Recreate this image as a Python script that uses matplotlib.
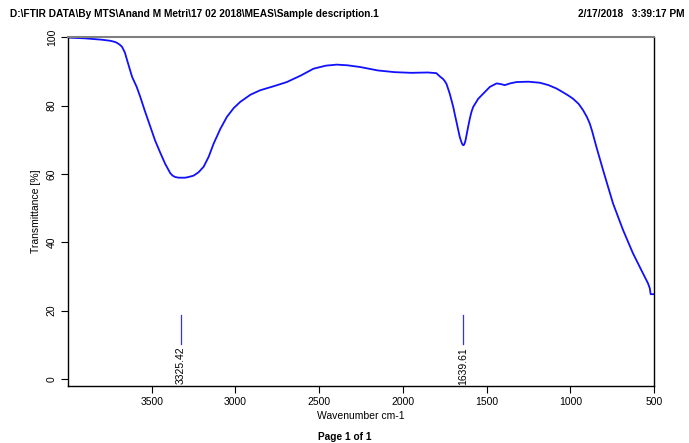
import numpy as np
import matplotlib.pyplot as plt

plt.rcParams['font.family'] = ['Liberation Sans', 'DejaVu Sans']

# spectrum
wavenumber = [4000, 3900, 3800, 3750, 3740, 3717, 3705, 3690, 3677, 3660, 3647, 3630,
              3617, 3590, 3568, 3540, 3508, 3480, 3448, 3420, 3389, 3375, 3360, 3339,
              3300, 3280, 3250, 3220, 3190, 3160, 3130, 3090, 3051, 3010, 2971, 2910,
              2852, 2770, 2693, 2610, 2534, 2460, 2394, 2330, 2255, 2150, 2050, 1950,
              1850, 1800, 1778, 1760, 1750, 1739, 1720, 1699, 1690, 1680, 1669, 1660,
              1650, 1645, 1639.6, 1635, 1630, 1625, 1618, 1610, 1600, 1590, 1580, 1550,
              1520, 1480, 1440, 1415, 1391, 1360, 1321, 1250, 1182, 1130, 1082, 1040,
              1013, 983, 950, 924, 900, 884, 870, 860, 844, 804, 745, 685,
              626, 566, 536, 525, 520, 500]
transmittance = [99.9, 99.7, 99.3, 99.0, 98.9, 98.6, 98.3, 97.8, 97.2, 95.5, 93.3, 90.5,
                 88.4, 85.5, 82.5, 78.3, 73.8, 69.8, 66.1, 63.0, 60.2, 59.5, 59.1, 58.9,
                 58.9, 59.1, 59.5, 60.5, 62.1, 65.0, 68.9, 73.2, 76.7, 79.3, 81.1, 83.2,
                 84.5, 85.7, 86.9, 88.8, 90.8, 91.7, 92.0, 91.8, 91.3, 90.3, 89.8, 89.6,
                 89.7, 89.5, 88.5, 87.8, 87.2, 86.3, 83.5, 79.6, 77.5, 75.3, 72.8, 70.8,
                 69.3, 68.7, 68.4, 68.5, 69.1, 70.0, 71.8, 73.8, 76.2, 78.2, 79.6, 82.0,
                 83.5, 85.5, 86.5, 86.3, 86.0, 86.5, 86.9, 87.0, 86.7, 86.0, 85.0, 83.8,
                 83.0, 82.0, 80.5, 78.7, 76.6, 74.8, 72.6, 70.8, 67.9, 61.1, 51.4, 43.6,
                 36.8, 30.9, 28.0, 26.5, 24.8, 24.8]

peaks = [3325.42, 1639.61]
xticks = [3500, 3000, 2500, 2000, 1500, 1000, 500]
yticks = [0, 20, 40, 60, 80, 100]

fig = plt.figure(figsize=(6.89, 4.43), dpi=100)
ax = fig.add_axes([0.0987, 0.1293, 0.8505, 0.7865])

ax.plot(wavenumber, transmittance, color='#1010ff', lw=1.3, solid_joinstyle='round')

for p in peaks:
    ax.plot([p, p], [10.2, 18.7], color='#3030ff', lw=0.9)
    ax.text(p, 9.4, '%.2f' % p, rotation=90, ha='center', va='top', fontsize=7.5)

ax.set_xlim(4000, 500)
ax.set_ylim(-2, 100)
ax.set_xticks(xticks)
ax.set_yticks(yticks)
ax.tick_params(axis='both', direction='out', length=5, width=0.8, labelsize=7.5, pad=3)
for lab in ax.get_yticklabels():
    lab.set_rotation(90)
    lab.set_va('center')
ax.spines['top'].set_color('#808080')
ax.spines['top'].set_linewidth(1.5)
for s in ['left', 'bottom', 'right']:
    ax.spines[s].set_linewidth(1.0)

ax.set_xlabel('Wavenumber cm-1', fontsize=7.5, labelpad=3)
ax.set_ylabel('Transmittance [%]', fontsize=7.5, labelpad=4)

fig.text(0.0145, 0.968, 'D:\\FTIR DATA\\By MTS\\Anand M Metri\\17 02 2018\\MEAS\\Sample description.1',
         fontsize=7.3, fontweight='bold', ha='left', va='center')
fig.text(0.993, 0.968, '2/17/2018   3:39:17 PM', fontsize=7.3, fontweight='bold', ha='right', va='center')
fig.text(0.501, 0.013, 'Page 1 of 1', fontsize=7.3, fontweight='bold', ha='center', va='center')

fig.savefig('out.png', dpi=100)
